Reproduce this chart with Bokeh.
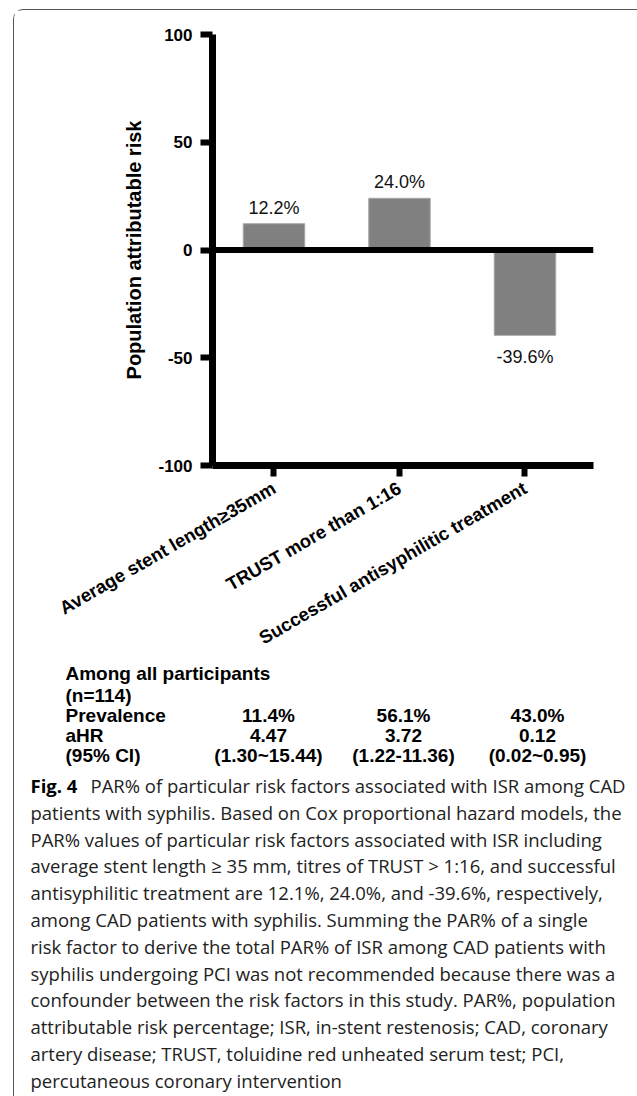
import math
from bokeh.plotting import figure
from bokeh.layouts import column
from bokeh.models import ColumnDataSource, Range1d, FixedTicker, Span
from bokeh.core.properties import value
from bokeh.embed import file_html
from bokeh.resources import INLINE

# ---------------- data ----------------
categories = ["Average stent length\u226535mm", "TRUST more than 1:16",
              "Successful antisyphilitic treatment"]
par_values = [12.2, 24.0, -39.6]
y_ticks = [-100, -50, 0, 50, 100]

table_title = "Among all participants"
table_n = "(n=114)"
row_names = ["Prevalence", "aHR", "(95% CI)"]
prevalence = ["11.4%", "56.1%", "43.0%"]
ahr = ["4.47", "3.72", "0.12"]
ci95 = ["(1.30~15.44)", "(1.22-11.36)", "(0.02~0.95)"]

caption_head = "Fig. 4"
caption_lines = [
    "PAR% of particular risk factors associated with ISR among CAD",
    "patients with syphilis. Based on Cox proportional hazard models, the",
    "PAR% values of particular risk factors associated with ISR including",
    "average stent length \u2265 35 mm, titres of TRUST > 1:16, and successful",
    "antisyphilitic treatment are 12.1%, 24.0%, and -39.6%, respectively,",
    "among CAD patients with syphilis. Summing the PAR% of a single",
    "risk factor to derive the total PAR% of ISR among CAD patients with",
    "syphilis undergoing PCI was not recommended because there was a",
    "confounder between the risk factors in this study. PAR%, population",
    "attributable risk percentage; ISR, in-stent restenosis; CAD, coronary",
    "artery disease; TRUST, toluidine red unheated serum test; PCI,",
    "percutaneous coronary intervention",
]

AX_FONT = "Liberation Sans"
CAP_FONT = "Open Sans"

# ---------------- chart ----------------
W = 623
H1 = 650
xpos = list(range(len(categories)))
p = figure(width=W, height=H1,
           x_range=Range1d(-0.49, len(categories) - 0.454),
           y_range=Range1d(-100, 100),
           output_backend="svg", toolbar_location=None,
           min_border_left=198, min_border_right=44,
           min_border_top=24, min_border_bottom=H1 - 457)
p.frame_align = False
p.outline_line_color = None
p.xgrid.grid_line_color = None
p.ygrid.grid_line_color = None

p.yaxis.ticker = FixedTicker(ticks=y_ticks)
p.yaxis.major_label_overrides = {t: str(t) for t in y_ticks}
p.yaxis.axis_line_width = 7
p.yaxis.axis_line_color = "black"
p.yaxis.major_tick_line_width = 6
p.yaxis.major_tick_out = 12
p.yaxis.major_tick_in = 0
p.yaxis.minor_tick_line_color = None
p.yaxis.major_label_text_font = AX_FONT
p.yaxis.major_label_text_font_style = "bold"
p.yaxis.major_label_text_font_size = "17px"
p.yaxis.major_label_text_color = "black"
p.yaxis.major_label_standoff = 8
p.yaxis.axis_label = "Population attributable risk"
p.yaxis.axis_label_text_font = AX_FONT
p.yaxis.axis_label_text_font_style = "bold"
p.yaxis.axis_label_text_font_size = "20px"
p.yaxis.axis_label_text_color = "black"
p.yaxis.axis_label_standoff = 10

p.xaxis.ticker = FixedTicker(ticks=xpos)
p.xaxis.major_label_overrides = {i: c for i, c in zip(xpos, categories)}
p.xaxis.axis_line_width = 7
p.xaxis.axis_line_color = "black"
p.xaxis.major_tick_line_width = 6
p.xaxis.major_tick_out = 11
p.xaxis.major_tick_in = 0
p.xaxis.minor_tick_line_color = None
p.xaxis.major_label_orientation = math.pi / 6
p.xaxis.major_label_text_font = AX_FONT
p.xaxis.major_label_text_font_style = "bold"
p.xaxis.major_label_text_font_size = "18.5px"
p.xaxis.major_label_text_color = "black"
p.xaxis.major_label_standoff = 10

src = ColumnDataSource(dict(
    x=xpos,
    val=par_values,
    lbl=[f"{v:.1f}%" for v in par_values],
    off=[-16 if v >= 0 else 22 for v in par_values],
))
p.vbar(x="x", top="val", bottom=0, width=0.49, source=src,
       fill_color="#808080", line_color="#a8a8a8", line_width=1)
p.text(x="x", y="val", text="lbl", source=src, y_offset="off",
       text_align="center", text_baseline="middle",
       text_font=value(AX_FONT), text_font_size="18px", text_color="#111111")
p.add_layout(Span(location=0, dimension="width", line_color="black", line_width=6))

# ---------------- table + caption (pixel-space figure) ----------------
H2 = 1086 - H1
q = figure(width=W, height=H2, x_range=Range1d(0, W), y_range=Range1d(H2, 0),
           output_backend="svg", toolbar_location=None,
           x_axis_type=None, y_axis_type=None, min_border=0)
q.frame_align = False
q.outline_line_color = None
q.grid.visible = False

TX = 51
title_y = [13, 35]
rows_y = [55, 75, 95]
col_x = [254, 389, 523]
TAB_SIZE = "19px"

q.text(x=[TX, TX], y=title_y, text=[table_title, table_n],
       text_baseline="middle", text_align="left", text_font=value(AX_FONT),
       text_font_style="bold", text_font_size=TAB_SIZE, text_color="black")
q.text(x=[TX] * len(row_names), y=rows_y, text=row_names,
       text_baseline="middle", text_align="left", text_font=value(AX_FONT),
       text_font_style="bold", text_font_size=TAB_SIZE, text_color="black")
cells_x, cells_y, cells_t = [], [], []
for ry, vals in zip(rows_y, [prevalence, ahr, ci95]):
    for cx, v in zip(col_x, vals):
        cells_x.append(cx)
        cells_y.append(ry)
        cells_t.append(v)
q.text(x=cells_x, y=cells_y, text=cells_t,
       text_baseline="middle", text_align="center", text_font=value(AX_FONT),
       text_font_style="bold", text_font_size=TAB_SIZE, text_color="black")

CAP_X, CAP_Y0, CAP_DY = 16, 125, 26.8
CAP_SIZE = "18.5px"
q.text(x=[CAP_X], y=[CAP_Y0], text=[caption_head], text_baseline="middle",
       text_font=value(CAP_FONT), text_font_style="bold",
       text_font_size=CAP_SIZE, text_color="black")
cap_x = [76] + [CAP_X] * (len(caption_lines) - 1)
cap_y = [CAP_Y0 + i * CAP_DY for i in range(len(caption_lines))]
q.text(x=cap_x, y=cap_y, text=caption_lines, text_baseline="middle",
       text_font=value(CAP_FONT), text_font_size=CAP_SIZE, text_color="#222222")

layout = column(p, q, margin=(9, 0, 0, 13),
                styles={"border-left": "1px solid #555555",
                        "border-top": "1px solid #555555",
                        "border-top-left-radius": "10px"})

open("out.html", "w").write(file_html(layout, INLINE))
